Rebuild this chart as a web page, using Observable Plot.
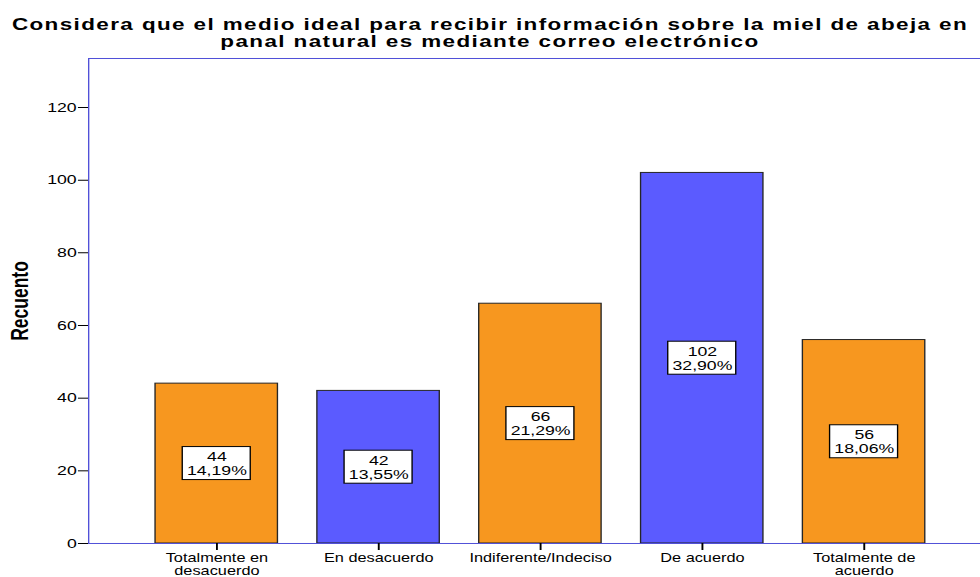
<!DOCTYPE html>
<html>
<head>
<meta charset="utf-8">
<script src="https://cdn.jsdelivr.net/npm/d3@7"></script>
<script src="https://cdn.jsdelivr.net/npm/@observablehq/plot@0.6"></script>
<style>
  html, body { margin: 0; padding: 0; background: #fff; overflow: hidden; width: 980px; height: 577px; }
  #wrap { width: 720.58px; transform: scaleX(1.36); transform-origin: 0 0; }
  #title {
    box-sizing: border-box; height: 50px; padding-top: 15.8px;
    font-family: "Liberation Sans", Arial, sans-serif; font-weight: bold;
    font-size: 16.5px; line-height: 17px; letter-spacing: 1.03px;
    text-align: center; color: #000; white-space: nowrap;
  }
  #chart svg { display: block; overflow: hidden; max-width: none !important; }
</style>
</head>
<body>
<div id="wrap">
  <div id="title">Considera que el medio ideal para recibir información sobre la miel de abeja en<br>panal natural es mediante correo electrónico</div>
  <div id="chart"></div>
</div>
<script>
const categories = ["Totalmente en desacuerdo", "En desacuerdo", "Indiferente/Indeciso", "De acuerdo", "Totalmente de acuerdo"];
const xTickLabels = ["Totalmente en\ndesacuerdo", "En desacuerdo", "Indiferente/Indeciso", "De acuerdo", "Totalmente de\nacuerdo"];
const counts = [44, 42, 66, 102, 56];
const percents = ["14,19%", "13,55%", "21,29%", "32,90%", "18,06%"];
const yTicks = [0, 20, 40, 60, 80, 100, 120];
const yLabel = "Recuento";

const palette = ["#F7971F", "#5B5BFF", "#F7971F", "#5B5BFF", "#F7971F"];
const frameBlue = "#5050D8";

const data = categories.map((c, i) => ({category: c, count: counts[i], pct: percents[i]}));

const width = 980 / 1.36, height = 527;
const marginTop = 8, marginBottom = 34, marginLeft = 64.7, marginRight = width - 730;
const yMax = 133.5;
const pxPerUnit = (height - marginTop - marginBottom) / yMax;
const boxHalf = 16.5 / pxPerUnit;

const chart = Plot.plot({
  width, height, marginTop, marginBottom, marginLeft, marginRight,
  style: {fontFamily: "Liberation Sans, Arial, sans-serif", color: "#000", background: "#fff", overflow: "hidden"},
  x: {domain: categories, paddingInner: 0.245, paddingOuter: 0.40},
  y: {domain: [0, yMax]},
  color: {domain: categories, range: palette},
  marks: [
    Plot.barY(data, {x: "category", y: "count", fill: "category", stroke: "#262626", strokeWidth: 1}),
    Plot.barY(data, {x: "category", y1: d => d.count / 2 - boxHalf, y2: d => d.count / 2 + boxHalf,
      fill: "#fff", stroke: "#000", strokeWidth: 1, insetLeft: 20, insetRight: 20}),
    Plot.text(data, {x: "category", y: d => d.count / 2, text: d => `${d.count}\n${d.pct}`,
      fontSize: 13, lineHeight: 1.07, fill: "#000"}),
    Plot.frame({stroke: frameBlue, strokeWidth: 1}),
    Plot.axisY({ticks: yTicks, tickSize: 7.4, tickPadding: 1.4, fontSize: 13, label: null, stroke: "#000"}),
    Plot.axisX({tickFormat: (d) => xTickLabels[categories.indexOf(d)], tickSize: 7, tickPadding: 3,
      fontSize: 12, lineHeight: 1.04, label: null, stroke: "#000", strokeWidth: 1.4}),
    Plot.text([yLabel], {frameAnchor: "left", dx: -50.4, rotate: -90, textAnchor: "middle",
      lineAnchor: "middle", fontSize: 17.5, fontWeight: "bold", fill: "#000"})
  ]
});
document.getElementById("chart").appendChild(chart);
</script>
</body>
</html>
